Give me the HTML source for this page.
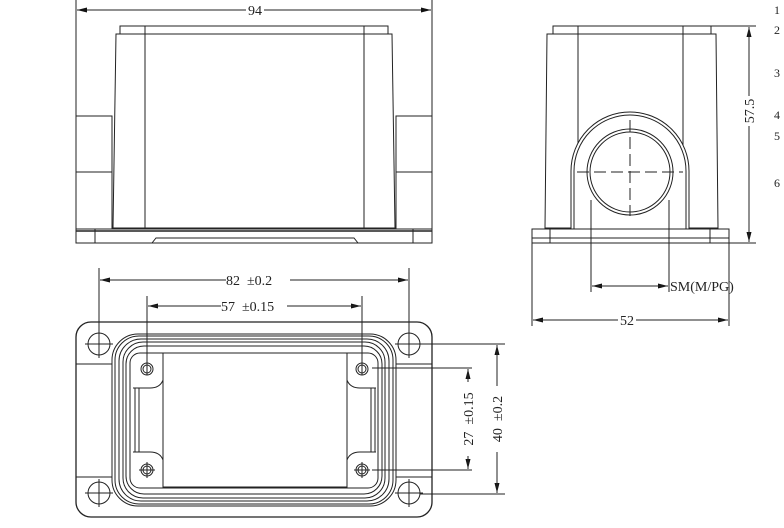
<!DOCTYPE html>
<html><head><style>html,body{margin:0;padding:0;background:#fff}svg{display:block}text{font-family:"Liberation Serif",serif;fill:#222;stroke:none;font-weight:normal}</style></head><body>
<svg width="784" height="528" viewBox="0 0 784 528" xmlns="http://www.w3.org/2000/svg" fill="none" stroke="#222" stroke-width="1">
<line x1="76" y1="0" x2="76" y2="229"/><line x1="432" y1="0" x2="432" y2="229"/>
<line x1="77" y1="10" x2="431" y2="10"/>
<g fill="#111" stroke="none">
<path d="M77,10l10,-2.5v5z"/><path d="M431,10l-10,-2.5v5z"/>
<path d="M749,27l-2.5,10h5z"/><path d="M749,242l-2.5,-10h5z"/>
<path d="M592,286l10,-2.5v5z"/><path d="M668,286l-10,-2.5v5z"/>
<path d="M533,320l10,-2.5v5z"/><path d="M728,320l-10,-2.5v5z"/>
<path d="M100,280l10,-2.5v5z"/><path d="M408,280l-10,-2.5v5z"/>
<path d="M148,306l10,-2.5v5z"/><path d="M361,306l-10,-2.5v5z"/>
<path d="M468,369l-2.5,10h5z"/><path d="M468,469l-2.5,-10h5z"/>
<path d="M497,345l-2.5,10h5z"/><path d="M497,493l-2.5,-10h5z"/>
</g>
<rect x="246" y="2" width="18" height="14" fill="#fff" stroke="none"/>
<text x="255" y="15" font-size="14" text-anchor="middle">94</text>
<rect x="120" y="26" width="268" height="8"/>
<path d="M116,34 L392,34 L395,228 L113,228 Z"/>
<line x1="145" y1="26" x2="145" y2="229"/><line x1="364" y1="26" x2="364" y2="229"/>
<rect x="76" y="116" width="36" height="56"/><rect x="396" y="116" width="36" height="56"/>
<line x1="112" y1="116" x2="112" y2="229"/><line x1="396" y1="116" x2="396" y2="229"/>
<rect x="76" y="229" width="356" height="14"/>
<line x1="76" y1="231" x2="432" y2="231" stroke-width="1.5"/>
<line x1="95" y1="229" x2="95" y2="243"/><line x1="413" y1="229" x2="413" y2="243"/>
<path d="M152,243 L156,238 L354,238 L358,243"/>
<rect x="553" y="26" width="158" height="8"/>
<path d="M547,34 L716,34 L718,228 L545,228 Z"/>
<line x1="578" y1="26" x2="578" y2="229"/><line x1="683" y1="26" x2="683" y2="229"/>
<path d="M571,229 L571,171 A59,59 0 0 1 689,171 L689,229" fill="#fff"/>
<path d="M574,229 L574,171 A56,56 0 0 1 686,171 L686,229"/>
<circle cx="630" cy="172" r="43" fill="#fff"/><circle cx="630" cy="172" r="40"/>
<line x1="577" y1="172" x2="683" y2="172" stroke-dasharray="12,5"/>
<line x1="630" y1="120" x2="630" y2="216" stroke-dasharray="12,5"/>
<rect x="532" y="229" width="197" height="14"/>
<line x1="532" y1="238" x2="729" y2="238"/>
<line x1="550" y1="229" x2="550" y2="243"/><line x1="710" y1="229" x2="710" y2="243"/>
<line x1="711" y1="26" x2="756" y2="26"/><line x1="729" y1="243" x2="756" y2="243"/>
<line x1="749" y1="27" x2="749" y2="242"/>
<rect x="742" y="96" width="14" height="30" fill="#fff" stroke="none"/>
<text transform="translate(754,111) rotate(-90)" font-size="14" text-anchor="middle">57.5</text>
<g font-size="12"><text x="774" y="14">1</text><text x="774" y="34">2</text><text x="774" y="77">3</text><text x="774" y="119">4</text><text x="774" y="140">5</text><text x="774" y="187">6</text></g>
<line x1="591" y1="200" x2="591" y2="292"/><line x1="669" y1="200" x2="669" y2="292"/>
<line x1="592" y1="286" x2="668" y2="286"/>
<text x="670" y="291" font-size="14">SM(M/PG)</text>
<line x1="532" y1="243" x2="532" y2="326"/><line x1="729" y1="243" x2="729" y2="326"/>
<line x1="533" y1="320" x2="728" y2="320"/>
<rect x="618" y="312" width="18" height="14" fill="#fff" stroke="none"/>
<text x="627" y="325" font-size="14" text-anchor="middle">52</text>
<line x1="99" y1="268" x2="99" y2="352"/><line x1="409" y1="268" x2="409" y2="352"/>
<line x1="100" y1="280" x2="408" y2="280"/>
<rect x="226" y="272" width="64" height="14" fill="#fff" stroke="none"/>
<text x="226" y="285" font-size="14" xml:space="preserve">82  ±0.2</text>
<line x1="147" y1="296" x2="147" y2="375"/><line x1="362" y1="296" x2="362" y2="375"/>
<line x1="148" y1="306" x2="361" y2="306"/>
<rect x="221" y="298" width="66" height="14" fill="#fff" stroke="none"/>
<text x="221" y="311" font-size="14" xml:space="preserve">57  ±0.15</text>
<rect x="76" y="322" width="356" height="195" rx="15" stroke-width="1.3"/>
<path d="M76,364 L112,364 M76,477 L112,477 M396,364 L432,364 M396,477 L432,477"/>
<rect x="112" y="334" width="284" height="172" rx="26"/>
<rect x="115" y="336" width="278" height="168" rx="24"/>
<rect x="119" y="339" width="270" height="162" rx="22"/>
<rect x="123" y="342" width="262" height="156" rx="20"/>
<rect x="126" y="346" width="256" height="148" rx="18"/>
<rect x="130" y="353" width="248" height="135" rx="10"/>
<rect x="163" y="353" width="184" height="134"/>
<path d="M163,360 L163,380 Q160,388 150,388 L133,388 M347,360 L347,380 Q350,388 360,388 L376,388 M163,460 Q160,452 150,452 L133,452 M347,460 Q350,452 360,452 L376,452"/>
<path d="M135,388 L135,452 M139,388 L139,452 M371,388 L371,452 M375,388 L375,452"/>
<g>
<circle cx="99" cy="344" r="11"/><circle cx="409" cy="344" r="11"/><circle cx="99" cy="493" r="11"/><circle cx="409" cy="493" r="11"/>
<path d="M85,344h28M99,330v28M395,344h28M409,330v28M85,493h28M99,479v28M395,493h28M409,479v28"/>
<circle cx="147" cy="369" r="6"/><circle cx="147" cy="369" r="4"/><circle cx="362" cy="369" r="6"/><circle cx="362" cy="369" r="4"/>
<circle cx="147" cy="470" r="6"/><circle cx="147" cy="470" r="4"/><circle cx="362" cy="470" r="6"/><circle cx="362" cy="470" r="4"/>
<path d="M139,470h16M147,462v16M354,470h16M362,462v16"/>
</g>
<line x1="420" y1="344" x2="505" y2="344"/><line x1="420" y1="494" x2="505" y2="494"/>
<line x1="372" y1="368" x2="472" y2="368"/><line x1="372" y1="470" x2="472" y2="470"/>
<line x1="468" y1="369" x2="468" y2="469"/>
<line x1="497" y1="345" x2="497" y2="493"/>
<rect x="461" y="382" width="14" height="74" fill="#fff" stroke="none"/>
<text transform="translate(473,419) rotate(-90)" font-size="14" text-anchor="middle" xml:space="preserve">27  ±0.15</text>
<rect x="490" y="386" width="14" height="66" fill="#fff" stroke="none"/>
<text transform="translate(502,419) rotate(-90)" font-size="14" text-anchor="middle" xml:space="preserve">40  ±0.2</text>
</svg>
</body></html>
